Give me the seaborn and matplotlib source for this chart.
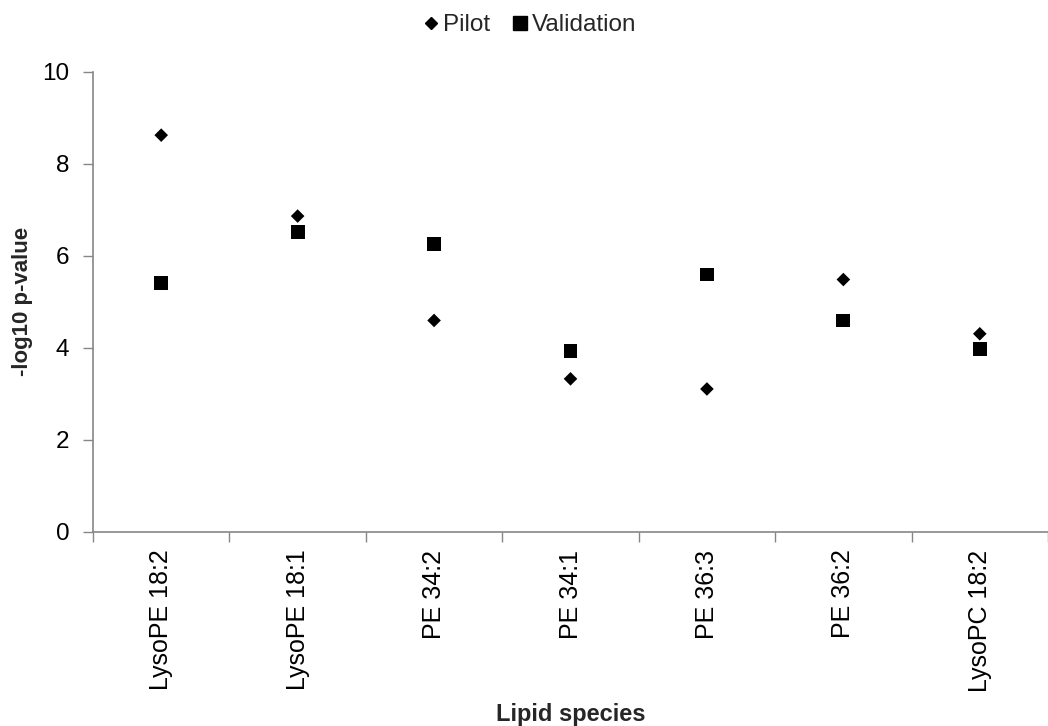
import numpy as np
import pandas as pd
import matplotlib
matplotlib.use("Agg")
import matplotlib.pyplot as plt
import seaborn as sns
from matplotlib.lines import Line2D

categories = ["LysoPE 18:2", "LysoPE 18:1", "PE 34:2", "PE 34:1", "PE 36:3", "PE 36:2", "LysoPC 18:2"]
pilot = [8.62, 6.86, 4.59, 3.32, 3.10, 5.48, 4.30]
validation = [5.40, 6.51, 6.25, 3.92, 5.59, 4.59, 3.96]
yticks = [0, 2, 4, 6, 8, 10]

sns.set_theme(style="white")
plt.rcParams['font.family'] = ['Liberation Sans', 'DejaVu Sans']

df = pd.DataFrame({
    "Lipid species": categories * 2,
    "value": pilot + validation,
    "series": ["Pilot"] * len(categories) + ["Validation"] * len(categories),
})
df["x"] = df["Lipid species"].map({c: i for i, c in enumerate(categories)})

fig = plt.figure(figsize=(10.48, 7.26), dpi=100)
ax = fig.add_axes([93 / 1048, 1 - 531.5 / 726, 1 - 93 / 1048, (531.5 - 71.7) / 726])

sub_p = df[df.series == "Pilot"]
sub_v = df[df.series == "Validation"]
sns.scatterplot(data=sub_p, x="x", y="value", marker="D", s=48, color="black",
                edgecolor="none", ax=ax, legend=False)
sns.scatterplot(data=sub_v, x="x", y="value", marker="s", s=100, color="black",
                edgecolor="none", ax=ax, legend=False)

ax.set_xlim(-0.5, len(categories) - 0.5)
ax.set_ylim(0, 10)
ax.set_yticks(yticks)
ax.set_yticklabels([str(v) for v in yticks], fontsize=17.5, color="black")
ax.set_xticks(range(len(categories)))
ax.set_xticklabels(categories, rotation=90, fontsize=18, color="black")
ax.set_xticks(np.arange(-0.5, len(categories), 1.0), minor=True)
ax.tick_params(axis="x", which="major", length=0, pad=13)
ax.tick_params(axis="x", which="minor", length=7, width=1, color="#868686", direction="out", bottom=True)
ax.tick_params(axis="y", which="major", length=7, width=1, color="#868686", direction="out", left=True, pad=10)

for s in ["top", "right"]:
    ax.spines[s].set_visible(False)
for s in ["left", "bottom"]:
    ax.spines[s].set_color("#868686")
    ax.spines[s].set_linewidth(1.2)

ax.set_xlabel("Lipid species", fontsize=17, fontweight="bold", labelpad=8)
ax.set_ylabel("-log10 p-value", fontsize=16, fontweight="bold", labelpad=7)
ax.grid(False)

handles = [
    Line2D([], [], marker="D", color="black", linestyle="none", markersize=6.5),
    Line2D([], [], marker="s", color="black", linestyle="none", markersize=10),
]
fig.legend(handles, ["Pilot", "Validation"], loc="center", bbox_to_anchor=(529 / 1048, 1 - 25 / 726),
           ncol=2, frameon=False, fontsize=17.5, handlelength=0.8, handletextpad=0.1,
           columnspacing=0.8, borderpad=0)

fig.savefig("out.png", dpi=100)
